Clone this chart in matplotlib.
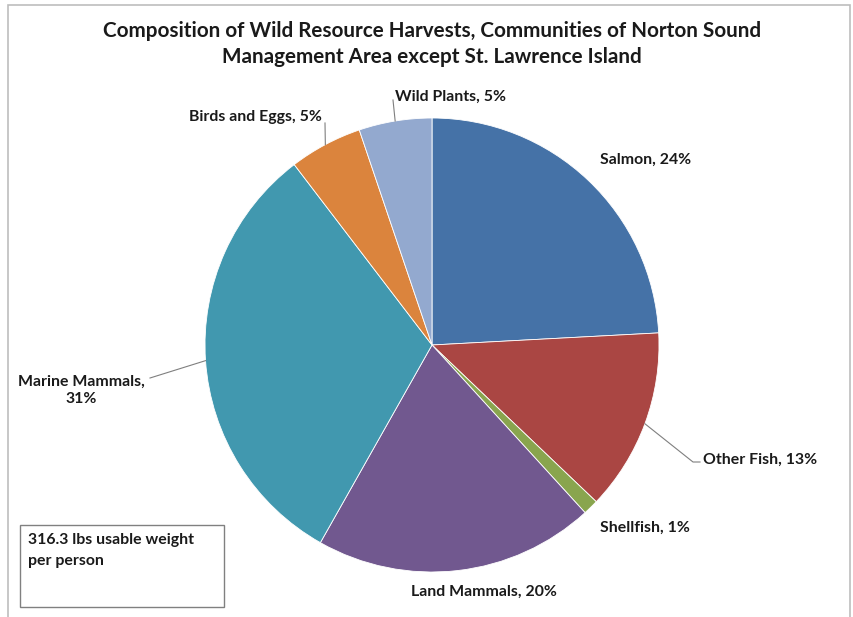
import matplotlib
matplotlib.use("Agg")
import matplotlib.pyplot as plt
import numpy as np
from matplotlib.patches import Rectangle

categories = ["Salmon", "Other Fish", "Shellfish", "Land Mammals",
              "Marine Mammals", "Birds and Eggs", "Wild Plants"]
values = [24.2, 13.0, 1.1, 20.0, 31.5, 5.2, 5.2]
colors = ["#4572A7", "#AA4643", "#89A54E", "#71588F", "#4198AF", "#DB843D", "#93A9CF"]
title = "Composition of Wild Resource Harvests, Communities of Norton Sound\nManagement Area except St. Lawrence Island"
note = "316.3 lbs usable weight\nper person"

W, H = 854, 617
plt.rcParams['font.family'] = ['Lato', 'DejaVu Sans']
fig = plt.figure(figsize=(W / 100, H / 100), dpi=100)
ax = fig.add_axes([0, 0, 1, 1])

def py(y):
    return H - y

cx, cy, R = 432, 345, 227
wedges, _ = ax.pie(values, colors=colors, startangle=90, counterclock=False,
                   center=(cx, py(cy)), radius=R, frame=True,
                   wedgeprops=dict(edgecolor='white', linewidth=0.6))
ax.set_xlim(0, W)
ax.set_ylim(0, H)
ax.set_aspect('equal')
ax.axis('off')

total = sum(values)
pcts = [round(v / total * 100) for v in values]

# label layout (pixel positions, ha, leader points)
layout = {
    "Salmon": (600, 160, 'left', None),
    "Other Fish": (703, 460, 'left', [(693, 462), (700, 462)]),
    "Shellfish": (600, 528, 'left', None),
    "Land Mammals": (411, 592, 'left', None),
    "Marine Mammals": (81, 390, 'center', [(150, 378)]),
    "Birds and Eggs": (189, 117, 'left', [(325, 123)]),
    "Wild Plants": (395, 97, 'left', [(393, 100)]),
}

lab_fs = 11.4
for w, cat, p in zip(wedges, categories, pcts):
    x, y, ha, pts = layout[cat]
    if cat == "Marine Mammals":
        txt = f"{cat},\n{p}%"
    else:
        txt = f"{cat}, {p}%"
    ax.text(x, py(y), txt, ha=ha, va='center', fontsize=lab_fs, fontweight='bold',
            color='#1a1a1a', linespacing=1.3)
    if pts:
        ang = np.deg2rad((w.theta1 + w.theta2) / 2)
        ex = cx + R * np.cos(ang)
        ey = py(cy) + R * np.sin(ang)
        xs = [ex] + [q[0] for q in pts]
        ys = [ey] + [py(q[1]) for q in pts]
        ax.plot(xs, ys, color='#7f7f7f', linewidth=0.8)

ax.text(432, py(44), title, ha='center', va='center', fontsize=14.9,
        fontweight='bold', color='#1a1a1a', linespacing=1.4)

ax.add_patch(Rectangle((20, py(607)), 204, 82, facecolor='white',
                       edgecolor='#808080', linewidth=1.0))
ax.text(28, py(533), note, ha='left', va='top', fontsize=11.4,
        fontweight='bold', color='#1a1a1a', linespacing=1.6)

ax.add_patch(Rectangle((8, py(640)), 842, 635, facecolor='none',
                       edgecolor='#bdbdbd', linewidth=1.2, clip_on=False))

fig.savefig("out.png", dpi=100)
